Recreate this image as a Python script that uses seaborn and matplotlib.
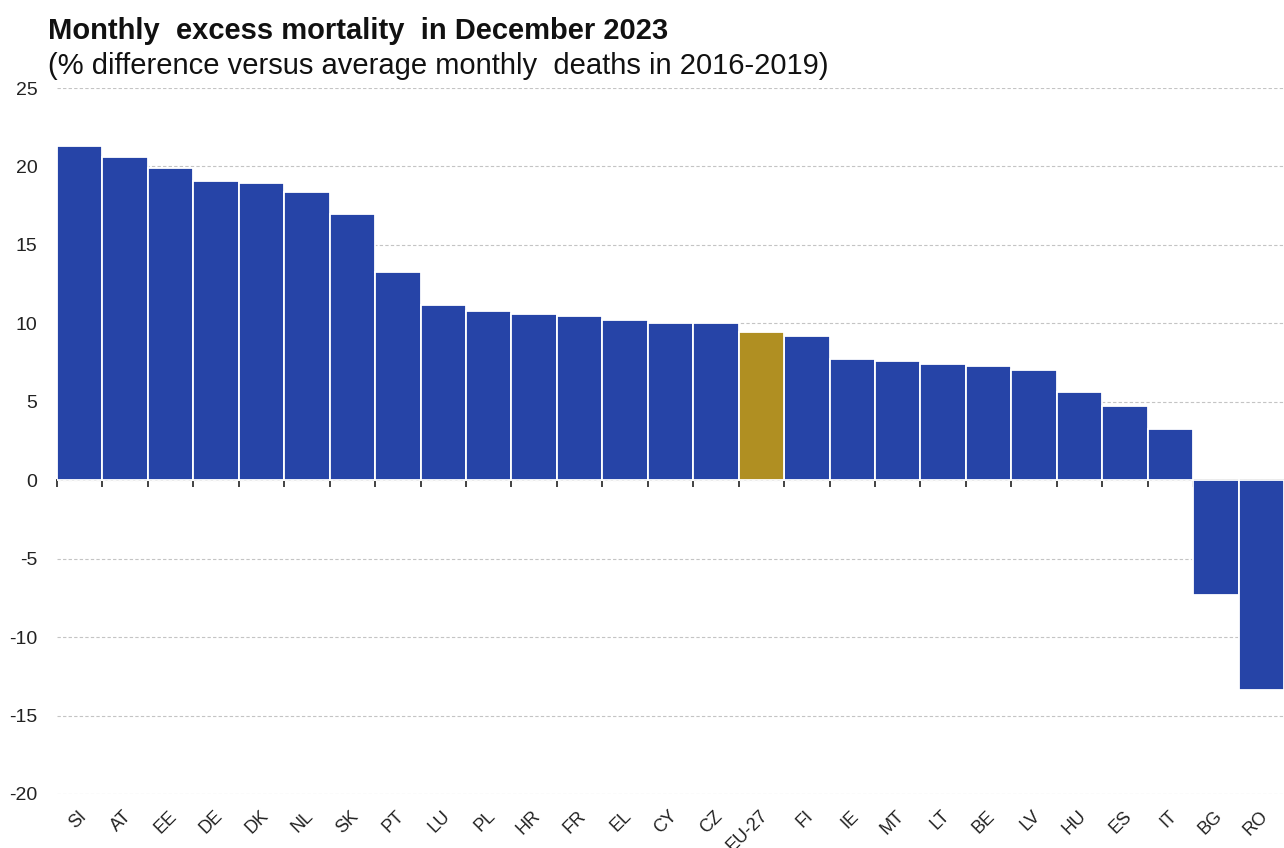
import matplotlib
matplotlib.use("Agg")
import matplotlib.pyplot as plt
import matplotlib.transforms as mtransforms
import seaborn as sns
import pandas as pd

# values
countries = ["SI", "AT", "EE", "DE", "DK", "NL", "SK", "PT", "LU", "PL", "HR", "FR", "EL", "CY",
             "CZ", "EU-27", "FI", "IE", "MT", "LT", "BE", "LV", "HU", "ES", "IT", "BG", "RO"]
excess = [21.3, 20.6, 19.9, 19.1, 18.95, 18.4, 17.0, 13.3, 11.2, 10.8, 10.6, 10.45, 10.2, 10.0,
          10.0, 9.45, 9.2, 7.7, 7.6, 7.4, 7.25, 7.05, 5.65, 4.7, 3.25, -7.3, -13.35]
group = ["EU" if c == "EU-27" else "country" for c in countries]
yticks = list(range(-20, 30, 5))

BLUE = "#2644A7"
GOLD = "#B08F22"

sns.set_theme(style="white")
plt.rcParams["font.family"] = ["Liberation Sans", "DejaVu Sans"]

df = pd.DataFrame({"country": countries, "value": excess, "group": group})

fig = plt.figure(figsize=(12.84, 8.48), dpi=100)
ax = fig.add_axes([0.0444, 0.0637, 0.9556, 0.8325])

sns.barplot(data=df, x="country", y="value", hue="group", order=countries,
            palette={"country": BLUE, "EU": GOLD}, dodge=False, legend=False,
            width=1.0, edgecolor="white", linewidth=1.3, saturation=1, ax=ax)

ax.set_xlim(-0.5, len(countries) - 0.5)
ax.set_ylim(-20, 25)
ax.set_yticks(yticks)
ax.set_yticklabels([str(t) for t in yticks], fontsize=14, color="#222222")
ax.yaxis.grid(True, linestyle=(0, (3, 2)), color="#c4c4c4", linewidth=0.8)
ax.set_axisbelow(True)
ax.tick_params(axis="y", length=0, pad=14)
ax.tick_params(axis="x", length=0, pad=14)
ax.set_xlabel("")
ax.set_ylabel("")
for s in ax.spines.values():
    s.set_visible(False)

shift = mtransforms.ScaledTranslation(4 / 100, 0, fig.dpi_scale_trans)
for lab in ax.get_xticklabels():
    lab.set_rotation(45)
    lab.set_ha("right")
    lab.set_va("center")
    lab.set_rotation_mode("anchor")
    lab.set_fontsize(13)
    lab.set_color("#222222")
    lab.set_transform(lab.get_transform() + shift)

# zero line with small ticks between the bars
zero = ax.secondary_xaxis(20 / 45)
zero.set_xticks([i - 0.5 for i in range(len(countries) + 1)])
zero.set_xticklabels([])
zero.tick_params(axis="x", direction="out", length=5, width=1.2, color="#222222")
zero.spines["bottom"].set_color("#222222")
zero.spines["bottom"].set_linewidth(1.3)
zero.spines["top"].set_visible(False)

fig.text(0.037, 0.963, "Monthly  excess mortality  in December 2023", fontsize=21,
         fontweight="bold", va="center", ha="left", color="#111111")
fig.text(0.037, 0.922, "(% difference versus average monthly  deaths in 2016-2019)", fontsize=21,
         va="center", ha="left", color="#111111")

fig.savefig("out.png", dpi=100)
